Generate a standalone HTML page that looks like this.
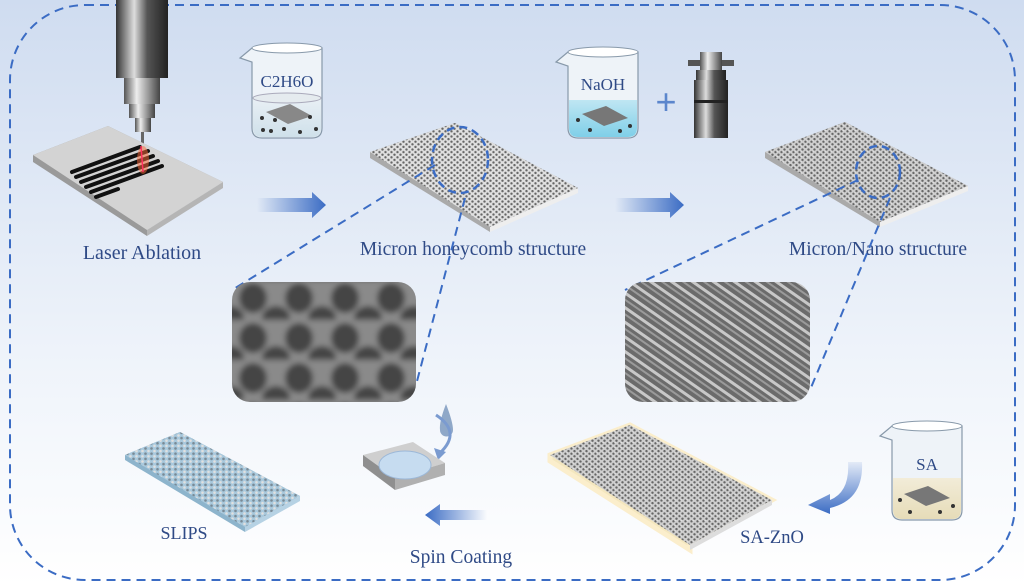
<!DOCTYPE html>
<html><head><meta charset="utf-8"><style>
html,body{margin:0;padding:0;width:1024px;height:585px;overflow:hidden;background:#fff}
svg{display:block}
text{font-family:"Liberation Serif",serif;fill:#2f4a86}
</style></head><body>
<svg width="1024" height="585" viewBox="0 0 1024 585" xmlns="http://www.w3.org/2000/svg">
<defs>
<linearGradient id="bg" x1="0" y1="0" x2="0" y2="1">
<stop offset="0" stop-color="#cfdcf0"/><stop offset="0.6" stop-color="#eef3fa"/><stop offset="1" stop-color="#ffffff"/>
</linearGradient>
<linearGradient id="arR" x1="0" x2="1"><stop offset="0" stop-color="#3b6cc4" stop-opacity="0"/><stop offset="1" stop-color="#3b6cc4"/></linearGradient>
<linearGradient id="arL" x1="1" x2="0"><stop offset="0" stop-color="#3b6cc4" stop-opacity="0"/><stop offset="1" stop-color="#3b6cc4"/></linearGradient>
<linearGradient id="arD" x1="0" y1="0" x2="0" y2="1"><stop offset="0" stop-color="#3b6cc4" stop-opacity="0.1"/><stop offset="1" stop-color="#3b6cc4"/></linearGradient>
<linearGradient id="cyl" x1="0" x2="1"><stop offset="0" stop-color="#333"/><stop offset=".35" stop-color="#ddd"/><stop offset=".6" stop-color="#555"/><stop offset="1" stop-color="#222"/></linearGradient>
<linearGradient id="cyl2" x1="0" x2="1"><stop offset="0" stop-color="#555"/><stop offset=".35" stop-color="#eee"/><stop offset="1" stop-color="#444"/></linearGradient>
<pattern id="hex" width="6" height="5.2" patternUnits="userSpaceOnUse"><rect width="6" height="5.2" fill="#e0e0e0"/><circle cx="1.5" cy="1.3" r="1.2" fill="#666"/><circle cx="4.5" cy="3.9" r="1.2" fill="#666"/></pattern>
<pattern id="hex2" width="6" height="5.2" patternUnits="userSpaceOnUse"><rect width="6" height="5.2" fill="#cfcfcf"/><circle cx="1.5" cy="1.3" r="1.2" fill="#666"/><circle cx="4.5" cy="3.9" r="1.2" fill="#666"/><circle cx="3" cy="0.5" r=".6" fill="#f4f4f4"/></pattern>
<pattern id="hex3" width="6" height="5.2" patternUnits="userSpaceOnUse"><rect width="6" height="5.2" fill="#a9c9dd"/><circle cx="1.5" cy="1.3" r="1.3" fill="#7a8a95"/><circle cx="4.5" cy="3.9" r="1.3" fill="#e0e0e0"/></pattern>
<pattern id="sem1" width="46" height="40" patternUnits="userSpaceOnUse"><rect width="46" height="40" fill="#8a8a8a"/><ellipse cx="23" cy="18" rx="14" ry="15" fill="#444"/><ellipse cx="0" cy="38" rx="14" ry="12" fill="#444"/><ellipse cx="46" cy="38" rx="14" ry="12" fill="#444"/></pattern>
<pattern id="sem2" width="12" height="12" patternUnits="userSpaceOnUse" patternTransform="rotate(35)"><rect width="12" height="12" fill="#6b6b6b"/><rect width="12" height="3" fill="#c8c8c8"/><rect y="6" width="12" height="2" fill="#9a9a9a"/></pattern>
<filter id="blur"><feGaussianBlur stdDeviation="3"/></filter>
<clipPath id="c1"><rect x="232" y="282" width="184" height="120" rx="18"/></clipPath>
<linearGradient id="water" x1="0" y1="0" x2="0" y2="1"><stop offset="0" stop-color="#e9f0f5"/><stop offset="1" stop-color="#cfe0ea"/></linearGradient>
<linearGradient id="naoh" x1="0" y1="0" x2="0" y2="1"><stop offset="0" stop-color="#bfe6f3"/><stop offset="1" stop-color="#7fcfe8"/></linearGradient>
<linearGradient id="sa" x1="0" y1="0" x2="0" y2="1"><stop offset="0" stop-color="#f2ecd8"/><stop offset="1" stop-color="#e6dcb8"/></linearGradient>
</defs>
<rect width="1024" height="585" fill="url(#bg)"/>
<rect x="10" y="5" width="1005" height="575" rx="75" fill="none" stroke="#3b6cc4" stroke-width="2" stroke-dasharray="9,6"/>

<!-- laser -->
<rect x="116" y="0" width="52" height="78" fill="url(#cyl)"/>
<rect x="124" y="78" width="36" height="26" fill="url(#cyl2)"/>
<rect x="129" y="104" width="26" height="14" fill="url(#cyl2)"/>
<rect x="135" y="118" width="16" height="14" fill="url(#cyl2)"/>
<rect x="141" y="132" width="3" height="14" fill="#666"/>
<polygon points="33,155 108,126 223,182 147,230 147,236 33,162" fill="#9a9a9a"/>
<polygon points="223,182 223,188 147,236 147,230" fill="#b5b5b5"/>
<polygon points="33,155 108,126 223,182 147,230" fill="#d3d3d3"/>
<g stroke="#111" stroke-width="4" stroke-linecap="round">
<line x1="72" y1="172" x2="140" y2="147"/><line x1="76" y1="177" x2="148" y2="151"/><line x1="81" y1="182" x2="153" y2="156"/><line x1="86" y1="187" x2="158" y2="161"/><line x1="91" y1="192" x2="162" y2="166"/><line x1="96" y1="197" x2="118" y2="189"/>
</g>
<ellipse cx="143" cy="160" rx="6" ry="14" fill="#ff6a3a" opacity=".5"/>
<line x1="141" y1="146" x2="143" y2="172" stroke="#ff3060" stroke-width="1.5"/>
<text x="142" y="259" font-size="20" text-anchor="middle">Laser Ablation</text>

<!-- beaker C2H6O -->
<path d="M240,58 L252,48 L322,48 L322,128 Q322,138 312,138 L262,138 Q252,138 252,128 L252,62 Z" fill="#eef3f8" stroke="#8899aa" stroke-width="1.2"/>
<ellipse cx="287" cy="48" rx="35" ry="5" fill="#fff" stroke="#8899aa"/>
<path d="M253,98 L321,98 L321,128 Q321,137 312,137 L262,137 Q253,137 253,128 Z" fill="url(#water)"/>
<ellipse cx="287" cy="98" rx="34" ry="5" fill="#e5ebef" stroke="#aab"/>
<polygon points="266,112 290,104 312,116 288,124" fill="#888"/>
<g fill="#333"><circle cx="262" cy="118" r="2"/><circle cx="275" cy="120" r="2"/><circle cx="310" cy="117" r="2"/><circle cx="263" cy="130" r="2"/><circle cx="271" cy="131" r="2"/><circle cx="284" cy="129" r="2"/><circle cx="300" cy="132" r="2"/><circle cx="316" cy="129" r="2"/></g>
<text x="287" y="87" font-size="17" text-anchor="middle">C2H6O</text>

<polygon points="257,198 312,198 312,192 326,205 312,218 312,212 257,212" fill="url(#arR)"/>

<!-- honeycomb plate -->
<polygon points="370,152 455,123 578,188 490,227 490,232 370,158" fill="#aaa"/>
<polygon points="578,188 578,193 490,232 490,227" fill="#eee"/>
<polygon points="370,152 455,123 578,188 490,227" fill="url(#hex)"/>
<ellipse cx="460" cy="160" rx="28" ry="33" fill="none" stroke="#3b6cc4" stroke-width="2.5" stroke-dasharray="8,5"/>
<text x="473" y="255" font-size="19.5" text-anchor="middle">Micron honeycomb structure</text>
<line x1="435" y1="165" x2="232" y2="290" stroke="#3b6cc4" stroke-width="2" stroke-dasharray="9,6"/>
<line x1="465" y1="198" x2="416" y2="385" stroke="#3b6cc4" stroke-width="2" stroke-dasharray="9,6"/>
<g clip-path="url(#c1)"><rect x="222" y="272" width="204" height="140" fill="url(#sem1)" filter="url(#blur)"/></g>

<!-- beaker NaOH -->
<path d="M556,62 L568,52 L638,52 L638,128 Q638,138 628,138 L578,138 Q568,138 568,128 L568,66 Z" fill="#eef3f8" stroke="#8899aa" stroke-width="1.2"/>
<ellipse cx="603" cy="52" rx="35" ry="5" fill="#fff" stroke="#8899aa"/>
<path d="M569,100 L637,100 L637,128 Q637,137 628,137 L578,137 Q569,137 569,128 Z" fill="url(#naoh)"/>
<polygon points="582,114 606,106 628,118 604,126" fill="#777"/>
<g fill="#333"><circle cx="578" cy="120" r="2"/><circle cx="590" cy="130" r="2"/><circle cx="620" cy="131" r="2"/><circle cx="630" cy="126" r="2"/></g>
<text x="603" y="90" font-size="17" text-anchor="middle">NaOH</text>
<text x="666" y="114" font-size="36" text-anchor="middle" style="fill:#5b86cc;font-family:'Liberation Sans',sans-serif">+</text>
<rect x="688" y="60" width="46" height="6" fill="#555"/>
<rect x="700" y="52" width="22" height="18" fill="url(#cyl2)"/>
<rect x="696" y="70" width="30" height="10" fill="url(#cyl)"/>
<rect x="694" y="80" width="34" height="58" fill="url(#cyl)"/>
<rect x="694" y="100" width="34" height="3" fill="#222"/>

<polygon points="615,198 670,198 670,192 684,205 670,218 670,212 615,212" fill="url(#arR)"/>

<!-- micron/nano plate -->
<polygon points="765,152 845,122 968,186 880,222 880,227 765,158" fill="#aaa"/>
<polygon points="968,186 968,191 880,227 880,222" fill="#eee"/>
<polygon points="765,152 845,122 968,186 880,222" fill="url(#hex2)"/>
<ellipse cx="878" cy="172" rx="22" ry="26" fill="none" stroke="#3b6cc4" stroke-width="2.5" stroke-dasharray="8,5"/>
<text x="878" y="255" font-size="19.5" text-anchor="middle">Micron/Nano structure</text>
<line x1="858" y1="180" x2="625" y2="290" stroke="#3b6cc4" stroke-width="2" stroke-dasharray="9,6"/>
<line x1="890" y1="198" x2="810" y2="390" stroke="#3b6cc4" stroke-width="2" stroke-dasharray="9,6"/>
<rect x="625" y="282" width="185" height="120" rx="18" fill="url(#sem2)"/>

<!-- beaker SA -->
<path d="M880,436 L892,426 L962,426 L962,510 Q962,520 952,520 L902,520 Q892,520 892,510 L892,440 Z" fill="#eef3f8" stroke="#8899aa" stroke-width="1.2"/>
<ellipse cx="927" cy="426" rx="35" ry="5" fill="#fff" stroke="#8899aa"/>
<path d="M893,478 L961,478 L961,510 Q961,519 952,519 L902,519 Q893,519 893,510 Z" fill="url(#sa)"/>
<polygon points="904,494 928,486 950,498 926,506" fill="#777"/>
<g fill="#333"><circle cx="900" cy="500" r="2"/><circle cx="910" cy="512" r="2"/><circle cx="940" cy="512" r="2"/><circle cx="953" cy="506" r="2"/></g>
<text x="927" y="470" font-size="17" text-anchor="middle">SA</text>
<path d="M848,462 L862,462 Q864,500 830,508 L830,514 L808,505 L830,494 L830,500 Q850,492 848,462 Z" fill="url(#arD)"/>

<!-- SA-ZnO plate -->
<polygon points="550,455 630,425 772,500 690,545 690,550 550,461" fill="#f4e7bf" stroke="#fbeecc" stroke-width="5"/>
<polygon points="550,455 630,425 772,500 690,545" fill="url(#hex2)"/>
<polygon points="772,500 772,505 690,550 690,545" fill="#ddd"/>
<text x="772" y="543" font-size="18.5" text-anchor="middle">SA-ZnO</text>

<!-- spin coat -->
<path d="M446,404 Q439,422 440,430 A6.5,6.5 0 0 0 453,430 Q453,422 446,404 Z" fill="#8fa8c8"/>
<path d="M436,415 Q462,432 440,453" fill="none" stroke="#7b9bd0" stroke-width="3"/>
<polygon points="434,448 446,452 438,460" fill="#7b9bd0"/>
<polygon points="363,455 413,442 445,463 395,478" fill="#cfcfcf"/>
<polygon points="363,455 395,478 395,490 363,466" fill="#8f8f8f"/>
<polygon points="395,478 445,463 445,475 395,490" fill="#b0b0b0"/>
<ellipse cx="405" cy="465" rx="26" ry="14" fill="#c6dcf0" stroke="#9cb8d8"/>
<polygon points="487,510 440,510 440,504 425,515 440,526 440,520 487,520" fill="url(#arL)"/>
<text x="461" y="563" font-size="19.5" text-anchor="middle">Spin Coating</text>

<!-- SLIPS -->
<polygon points="125,455 180,432 300,496 245,527 245,532 125,460" fill="#8db4cc"/>
<polygon points="300,496 300,501 245,532 245,527" fill="#b6d2e4"/>
<polygon points="125,455 180,432 300,496 245,527" fill="url(#hex3)"/>
<text x="184" y="539" font-size="18" text-anchor="middle">SLIPS</text>
</svg>
</body></html>
